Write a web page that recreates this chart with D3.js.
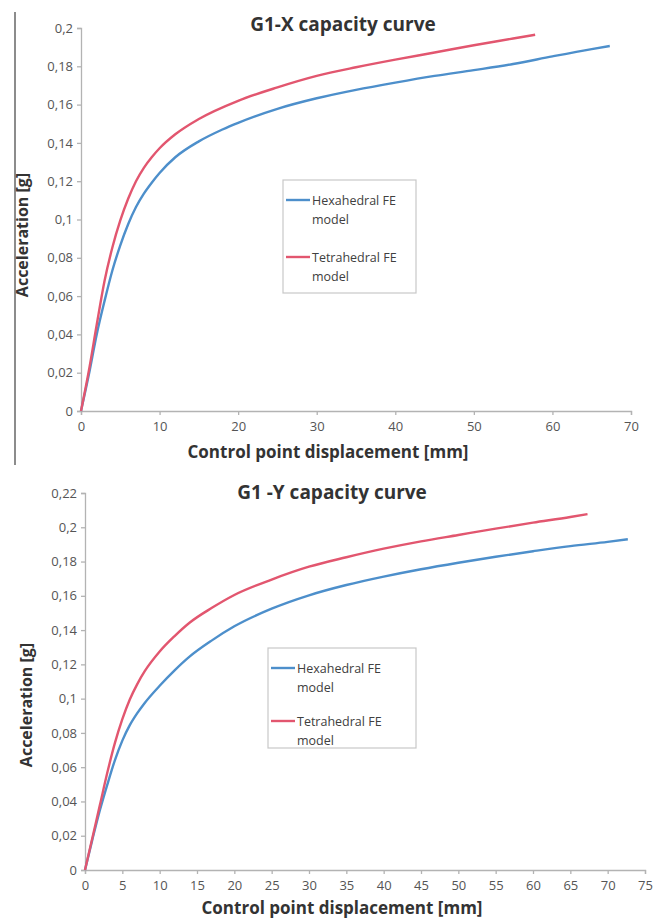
<!DOCTYPE html>
<html>
<head>
<meta charset="utf-8">
<script src="https://cdn.jsdelivr.net/npm/d3@7"></script>
<style>
  body { margin: 0; background: #fff; }
  svg text { font-family: "Open Sans", "Noto Sans", sans-serif; }
</style>
</head>
<body>
<svg id="chart" width="660" height="920"></svg>
<script>
// G1-X curves: [displacement mm, acceleration g]
const xHexa = [[0,0],[1,0.019],[2,0.040],[3,0.0575],[4,0.0735],[5,0.0865],[6,0.0975],[7,0.1065],[8,0.1135],[9,0.1192],[10,0.1243],[12,0.1325],[15,0.1408],[18,0.147],[20,0.1505],[25,0.1578],[30,0.1633],[35,0.1677],[40,0.1715],[45,0.175],[50,0.178],[55,0.1812],[60,0.1852],[65,0.189],[67.3,0.1906]];
const xTetra = [[0,0],[1,0.021],[2,0.045],[3,0.068],[4,0.0855],[5,0.0995],[6,0.1108],[7,0.120],[8,0.127],[9,0.1325],[10,0.1372],[12,0.1445],[15,0.1525],[20,0.162],[25,0.169],[30,0.175],[35,0.1795],[40,0.1835],[45,0.1872],[50,0.191],[55,0.1945],[57.8,0.1965]];

// G1-Y curves
const yHexa = [[0,0],[1,0.018],[2,0.035],[3,0.050],[4,0.064],[5,0.0755],[6,0.0845],[7,0.0915],[8,0.0975],[10,0.1075],[12,0.1165],[14,0.1245],[17,0.134],[20,0.1422],[25,0.1525],[30,0.1603],[35,0.1663],[40,0.1712],[45,0.1755],[50,0.1793],[55,0.1828],[60,0.186],[65,0.189],[70,0.1915],[72.7,0.193]];
const yTetra = [[0,0],[1,0.019],[2,0.038],[3,0.057],[4,0.074],[5,0.088],[6,0.0995],[7,0.1085],[8,0.116],[10,0.1275],[12,0.1365],[14,0.1443],[17,0.153],[20,0.1605],[25,0.1695],[30,0.177],[35,0.1825],[40,0.1875],[45,0.1918],[50,0.1955],[55,0.1992],[60,0.2027],[65,0.206],[67.3,0.2077]];

const seriesNames = ['Hexahedral FE model', 'Tetrahedral FE model'];
const xTicksTop = [0, 10, 20, 30, 40, 50, 60, 70];
const yTicksTop = [0, 0.02, 0.04, 0.06, 0.08, 0.1, 0.12, 0.14, 0.16, 0.18, 0.2];
const xTicksBottom = [0, 5, 10, 15, 20, 25, 30, 35, 40, 45, 50, 55, 60, 65, 70, 75];
const yTicksBottom = [0, 0.02, 0.04, 0.06, 0.08, 0.1, 0.12, 0.14, 0.16, 0.18, 0.2, 0.22];

const colors = ['#4d8fcb', '#e2566f'];
const svg = d3.select('#chart');

// the scan shows a frame edge on the left of the upper chart
svg.append('line').attr('x1', 15).attr('x2', 15).attr('y1', 12).attr('y2', 465)
    .attr('stroke', '#666').attr('stroke-width', 1.5);

// decimal comma like the original
const fmt = d => String(d3.format('~g')(+d.toFixed(2))).replace('.', ',');

function drawChart(cfg) {
    const xScale = d3.scaleLinear().domain([0, cfg.xMax]).range([cfg.left, cfg.right]);
    const yScale = d3.scaleLinear().domain([0, cfg.yMax]).range([cfg.bottom, cfg.top]);

    const xAxis = d3.axisBottom(xScale).tickValues(cfg.xTicks).tickSize(4).tickPadding(7).tickFormat(d => d);
    const yAxis = d3.axisLeft(yScale).tickValues(cfg.yTicks).tickSize(4).tickPadding(4).tickFormat(fmt);

    const gx = svg.append('g').attr('transform', `translate(0,${cfg.bottom})`).call(xAxis);
    const gy = svg.append('g').attr('transform', `translate(${cfg.left},0)`).call(yAxis);
    [gx, gy].forEach(g => {
        g.selectAll('path, line').attr('stroke', '#b3b3b3').attr('stroke-width', 1.3);
        g.selectAll('text').attr('fill', '#555').style('font-size', '13px');
    });

    const line = d3.line().x(d => xScale(d[0])).y(d => yScale(d[1])).curve(d3.curveMonotoneX);
    cfg.series.forEach((s, i) => {
        svg.append('path').datum(s).attr('d', line)
            .attr('fill', 'none').attr('stroke', colors[i]).attr('stroke-width', 2.4);
    });

    // title and axis labels
    svg.append('text').attr('x', cfg.titleX).attr('y', cfg.titleY).attr('text-anchor', 'middle')
        .style('font-size', '19px').style('font-weight', 'bold').attr('fill', '#333').text(cfg.title);
    svg.append('text').attr('x', cfg.xLabelX).attr('y', cfg.xLabelY).attr('text-anchor', 'middle')
        .style('font-size', '17px').style('font-weight', 'bold').attr('fill', '#333')
        .text('Control point displacement [mm]');
    svg.append('text').attr('transform', `translate(${cfg.yLabelX},${cfg.yLabelY}) rotate(-90)`)
        .attr('text-anchor', 'middle').style('font-size', '16px').style('font-weight', 'bold').attr('fill', '#333')
        .text('Acceleration [g]');

    // legend
    const lg = svg.append('g').attr('transform', `translate(${cfg.legend.x},${cfg.legend.y})`);
    lg.append('rect').attr('width', cfg.legend.w).attr('height', cfg.legend.h)
        .attr('fill', '#fff').attr('stroke', '#c8c8c8').attr('stroke-width', 1.2);
    seriesNames.forEach((name, i) => {
        const y0 = 20 + i * cfg.legend.step;
        lg.append('line').attr('x1', 3).attr('x2', 27).attr('y1', y0).attr('y2', y0)
            .attr('stroke', colors[i]).attr('stroke-width', 2.4);
        const words = name.split(' ');
        const t = lg.append('text').attr('fill', '#404040').style('font-size', '12.5px');
        t.append('tspan').attr('x', 29).attr('y', y0 + 4.5).text(words.slice(0, 2).join(' '));
        t.append('tspan').attr('x', 29).attr('y', y0 + 24).text(words[2]);
    });
}

drawChart({
    xMax: 70, yMax: 0.2, left: 81, right: 631, top: 28, bottom: 411,
    xTicks: xTicksTop, yTicks: yTicksTop, series: [xHexa, xTetra],
    title: 'G1-X capacity curve', titleX: 343, titleY: 31,
    xLabelX: 328, xLabelY: 458, yLabelX: 28, yLabelY: 235,
    legend: { x: 283, y: 180, w: 133, h: 113, step: 57 }
});

drawChart({
    xMax: 75, yMax: 0.22, left: 85, right: 645, top: 493, bottom: 870,
    xTicks: xTicksBottom, yTicks: yTicksBottom, series: [yHexa, yTetra],
    title: 'G1 -Y capacity curve', titleX: 332, titleY: 499,
    xLabelX: 342, xLabelY: 914, yLabelX: 32, yLabelY: 705,
    legend: { x: 268, y: 648, w: 148, h: 100, step: 53 }
});
</script>
</body>
</html>
